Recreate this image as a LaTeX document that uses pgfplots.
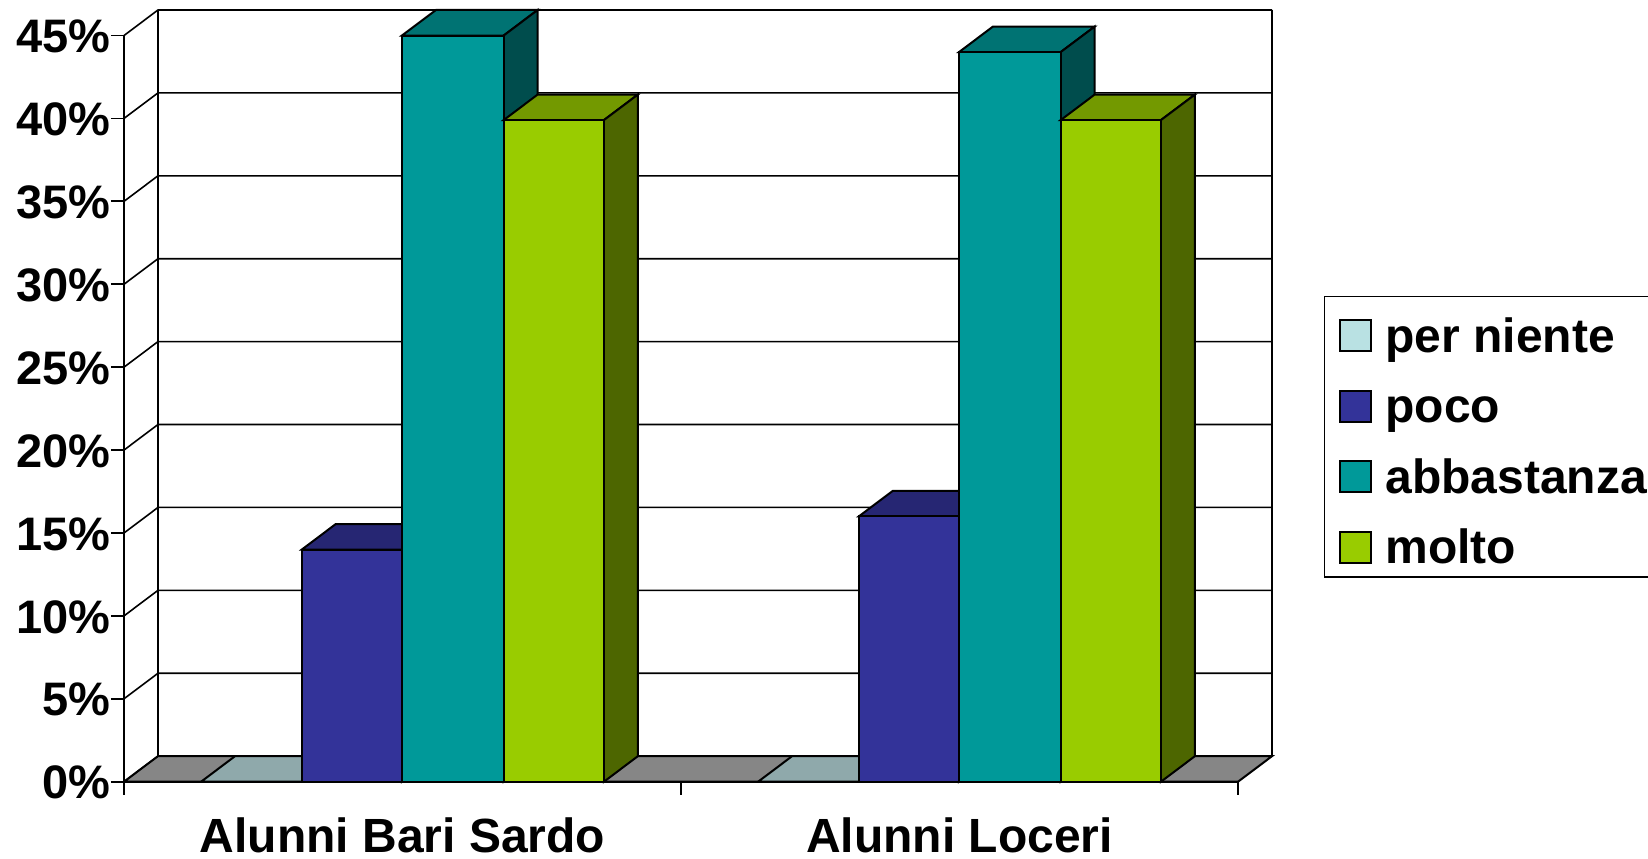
\documentclass[border=0pt]{standalone}
\usepackage{fontspec}
\setmainfont{Liberation Sans}
\usepackage{pgfplots}
\pgfplotsset{compat=1.18}
\definecolor{nienteF}{HTML}{B9E1E3}
\definecolor{nienteT}{HTML}{8FA9AB}
\definecolor{pocoF}{HTML}{333399}
\definecolor{pocoT}{HTML}{262673}
\definecolor{pocoS}{HTML}{1A1A4D}
\definecolor{abbF}{HTML}{009999}
\definecolor{abbT}{HTML}{007373}
\definecolor{abbS}{HTML}{004D4D}
\definecolor{moltoF}{HTML}{99CC00}
\definecolor{moltoT}{HTML}{739900}
\definecolor{moltoS}{HTML}{4D6600}
\pgfplotsset{
  wall/.style={black, line width=0.8pt, forget plot},
  face/.style={draw=black, line width=1pt, line join=miter, fill=#1, forget plot},
  front/.style={ybar, draw=black, line width=1pt,
    legend image code/.code={
      \path (0pt,0pt) rectangle (15.5pt,5pt);
      \draw[overlay,line width=1pt,##1] (0pt,-10.2pt) rectangle (15.5pt,5.3pt);}},
}
\begin{document}
\begin{tikzpicture}[x=1pt,y=1pt]
\path[use as bounding box] (0,0) rectangle (824,429);
\begin{axis}[
  at={(62pt,38.15pt)}, anchor=south west,
  scale only axis, width=574pt, height=385.85pt,
  xmin=-0.5, xmax=1.561, ymin=0, ymax=46.54,
  clip=false,
  axis line style={draw=none},
  tick align=outside, xtick pos=bottom, ytick pos=left,
  major tick length=6.5pt,
  tick style={black, line width=0.9pt},
  font=\fontsize{24}{26}\selectfont\bfseries,
  ytick={0,5,10,15,20,25,30,35,40,45},
  yticklabels={0\%,5\%,10\%,15\%,20\%,25\%,30\%,35\%,40\%,45\%},
  yticklabel style={inner sep=0pt, yshift=-0.5pt, font=\fontsize{23.5}{26}\selectfont\bfseries},
  xtick={-0.5,0.5,1.5},
  xticklabels={,,},
  extra x ticks={0,1},
  extra x tick labels={Alunni Bari Sardo,Alunni Loceri},
  extra x tick style={xtick style={draw=none}, xticklabel style={inner sep=0pt, yshift=-11.5pt}},
  legend style={
    at={(1.0449,0.6298)}, anchor=north west,
    draw=black, line width=0.9pt,
    inner xsep=7.5pt, inner ysep=6.25pt,
    row sep=13.2pt, column sep=6.5pt,
    nodes={inner sep=0pt, text height=21.7pt, text depth=0.3pt, font=\fontsize{24}{26}\selectfont\bfseries},
  },
  legend cell align=left,
]
% back wall and left side
\addplot[wall] coordinates {(-0.5,0) (-0.439,1.54) (1.561,1.54)};
\addplot[wall] coordinates {(-0.5,5) (-0.439,6.54) (1.561,6.54)};
\addplot[wall] coordinates {(-0.5,10) (-0.439,11.54) (1.561,11.54)};
\addplot[wall] coordinates {(-0.5,15) (-0.439,16.54) (1.561,16.54)};
\addplot[wall] coordinates {(-0.5,20) (-0.439,21.54) (1.561,21.54)};
\addplot[wall] coordinates {(-0.5,25) (-0.439,26.54) (1.561,26.54)};
\addplot[wall] coordinates {(-0.5,30) (-0.439,31.54) (1.561,31.54)};
\addplot[wall] coordinates {(-0.5,35) (-0.439,36.54) (1.561,36.54)};
\addplot[wall] coordinates {(-0.5,40) (-0.439,41.54) (1.561,41.54)};
\addplot[wall] coordinates {(-0.5,45) (-0.439,46.54) (1.561,46.54)};
\addplot[wall] coordinates {(-0.5,0) (-0.5,45)};
\addplot[wall] coordinates {(-0.439,1.54) (-0.439,46.54)};
\addplot[wall] coordinates {(1.561,1.54) (1.561,46.54)};
% floor
\addplot[face=gray!95] coordinates {(-0.5,0) (1.5,0) (1.561,1.54) (-0.439,1.54)} --cycle;
% per niente
\addplot[face=nienteT] coordinates {(-0.3616,0) (-0.1808,0) (-0.1198,1.54) (-0.3006,1.54)} --cycle;
\addplot[face=nienteT] coordinates {(0.6384,0) (0.8192,0) (0.8802,1.54) (0.6994,1.54)} --cycle;
\addplot[front, bar width=0.1808, bar shift=-0.2712, fill=nienteF] coordinates {(0,0) (1,0)};
\addlegendentry{per niente}
% poco
\addplot[face=pocoT] coordinates {(-0.1808,14) (-0.001,14) (0.06,15.54) (-0.1198,15.54)} --cycle;
\addplot[face=pocoS] coordinates {(-0.001,0) (-0.001,14) (0.06,15.54) (0.06,1.54)} --cycle;
\addplot[face=pocoT] coordinates {(0.8192,16) (0.999,16) (1.06,17.54) (0.8802,17.54)} --cycle;
\addplot[face=pocoS] coordinates {(0.999,0) (0.999,16) (1.06,17.54) (1.06,1.54)} --cycle;
\addplot[front, bar width=0.1798, bar shift=-0.0909, fill=pocoF] coordinates {(0,14) (1,16)};
\addlegendentry{poco}
% abbastanza
\addplot[face=abbT] coordinates {(-0.001,45) (0.1816,45) (0.2426,46.54) (0.06,46.54)} --cycle;
\addplot[face=abbS] coordinates {(0.1816,0) (0.1816,45) (0.2426,46.54) (0.2426,1.54)} --cycle;
\addplot[face=abbT] coordinates {(0.999,44) (1.1816,44) (1.2426,45.54) (1.06,45.54)} --cycle;
\addplot[face=abbS] coordinates {(1.1816,0) (1.1816,44) (1.2426,45.54) (1.2426,1.54)} --cycle;
\addplot[front, bar width=0.1826, bar shift=0.0903, fill=abbF] coordinates {(0,45) (1,44)};
\addlegendentry{abbastanza}
% molto
\addplot[face=moltoT] coordinates {(0.1816,39.9) (0.3616,39.9) (0.4226,41.44) (0.2426,41.44)} --cycle;
\addplot[face=moltoS] coordinates {(0.3616,0) (0.3616,39.9) (0.4226,41.44) (0.4226,1.54)} --cycle;
\addplot[face=moltoT] coordinates {(1.1816,39.9) (1.3616,39.9) (1.4226,41.44) (1.2426,41.44)} --cycle;
\addplot[face=moltoS] coordinates {(1.3616,0) (1.3616,39.9) (1.4226,41.44) (1.4226,1.54)} --cycle;
\addplot[front, bar width=0.18, bar shift=0.2716, fill=moltoF] coordinates {(0,39.9) (1,39.9)};
\addlegendentry{molto}
% front edge of the floor
\addplot[wall, line width=1pt] coordinates {(-0.5,0) (1.5,0)};
\end{axis}
\end{tikzpicture}
\end{document}
